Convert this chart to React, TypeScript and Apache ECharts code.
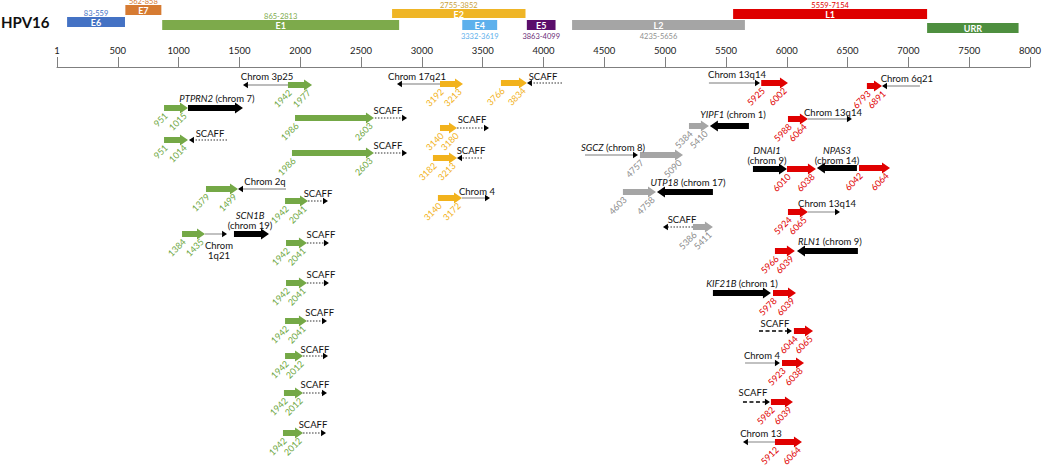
import React, { useEffect, useRef } from 'react';
import * as echarts from 'echarts';

const FONT = 'Lato';

// HPV16 genome axis
const AXIS_MIN = 0;
const AXIS_MAX = 8000;
const AXIS_STEP = 500;

// HPV16 genes (nt)
const geneNames = ['E6', 'E7', 'E1', 'E2', 'E4', 'E5', 'L2', 'L1', 'URR'];
const geneStart = [83, 562, 865, 2755, 3332, 3863, 4235, 5559, 7154];
const geneEnd = [559, 858, 2813, 3852, 3619, 4099, 5656, 7154, 7906];
const geneRange = ['83-559', '562-858', '865-2813', '2755-3852', '3332-3619', '3863-4099', '4235-5656', '5559-7154', ''];

// layout / style of gene map (kept apart from data)
const geneTop = [17, 5, 20, 9, 20, 20, 20, 9, 23];
const geneBottom = [27, 15, 30, 18, 30, 30, 30, 19, 33];
const geneLabelSide = ['above', 'above', 'above', 'above', 'below', 'below', 'below', 'above', ''];
const geneColor = ['#4472C4', '#D67B32', '#7DAA4B', '#EFB526', '#5DB0EC', '#5B0E6B', '#A5A5A5', '#DE0000', '#4E8F3F'];
const geneLabelColor = ['#4472C4', '#D67B32', '#7DAA4B', '#C9A23A', '#5DB0EC', '#6B2C78', '#8F8F8F', '#E00000', '#000'];

// Integration events: piece = [kind, from, to] drawn along the genome axis (arrow points toward "to")
type Piece = [string, number, number];
type Note = [string, number, number];
interface Ev { track: number; breaks: [number, number]; pieces: Piece[]; notes: Note[] }

const e1Events: Ev[] = [
  { track: 1.8, breaks: [1942, 1977], pieces: [['chrom', 1899, 1529], ['hpv', 1899, 2097]], notes: [['Chrom 3p25', 1727, -9]] },
  { track: 4.1, breaks: [951, 1015], pieces: [['hpv', 880, 1077], ['gene', 1077, 1529]], notes: [['{i|PTPRN2} (chrom 7)', 1315, -10]] },
  { track: 5.1, breaks: [1986, 2603], pieces: [['hpv', 1957, 2606], ['scaff', 2614, 2878]], notes: [['SCAFF', 2721, -8]] },
  { track: 7.3, breaks: [951, 1014], pieces: [['hpv', 880, 1077], ['scaff', 1398, 1085]], notes: [['SCAFF', 1258, -7]] },
  { track: 8.6, breaks: [1986, 2603], pieces: [['hpv', 1932, 2606], ['scaff', 2614, 2878]], notes: [['SCAFF', 2721, -8]] },
  { track: 12.2, breaks: [1379, 1499], pieces: [['hpv', 1225, 1488], ['chrom', 1883, 1488]], notes: [['Chrom 2q', 1710, -8]] },
  { track: 13.4, breaks: [1942, 2041], pieces: [['hpv', 1875, 2064], ['scaff', 2064, 2228]], notes: [['SCAFF', 2146, -8]] },
  { track: 16.7, breaks: [1384, 1435], pieces: [['hpv', 1028, 1217], ['chrom', 1217, 1398], ['gene', 1455, 1743]], notes: [['Chrom\n1q21', 1332, 16], ['{i|SCN1B}\n(chrom 19)', 1587, -14]] },
  { track: 17.6, breaks: [1942, 2041], pieces: [['hpv', 1883, 2055], ['scaff', 2055, 2236]], notes: [['SCAFF', 2170, -9]] },
  { track: 21.6, breaks: [1942, 2041], pieces: [['hpv', 1883, 2055], ['scaff', 2055, 2236]], notes: [['SCAFF', 2170, -9]] },
  { track: 25.4, breaks: [1942, 2041], pieces: [['hpv', 1875, 2055], ['scaff', 2055, 2220]], notes: [['SCAFF', 2160, -9]] },
  { track: 28.9, breaks: [1942, 2012], pieces: [['hpv', 1875, 2023], ['scaff', 2023, 2228]], notes: [['SCAFF', 2121, -7]] },
  { track: 32.6, breaks: [1942, 2012], pieces: [['hpv', 1866, 2023], ['scaff', 2023, 2220]], notes: [['SCAFF', 2121, -9]] },
  { track: 36.6, breaks: [1942, 2012], pieces: [['hpv', 1858, 2023], ['scaff', 2023, 2212]], notes: [['SCAFF', 2105, -9]] },
];

const e2Events: Ev[] = [
  { track: 1.7, breaks: [3192, 3213], pieces: [['chrom', 3149, 2795], ['hpv', 3149, 3338]], notes: [['Chrom 17q21', 2960, -8]] },
  { track: 1.6, breaks: [3766, 3834], pieces: [['hpv', 3650, 3864], ['scaff', 4152, 3864]], notes: [['SCAFF', 3996, -7]] },
  { track: 6.1, breaks: [3140, 3180], pieces: [['hpv', 3149, 3289], ['scaff', 3289, 3552]], notes: [['SCAFF', 3412, -9]] },
  { track: 9.1, breaks: [3182, 3213], pieces: [['hpv', 3091, 3289], ['scaff', 3494, 3289]], notes: [['SCAFF', 3404, -8]] },
  { track: 13.1, breaks: [3140, 3172], pieces: [['hpv', 3132, 3330], ['chrom', 3330, 3560]], notes: [['Chrom 4', 3453, -7]] },
];

const l2Events: Ev[] = [
  { track: 5.9, breaks: [5384, 5410], pieces: [['hpv', 5196, 5360], ['gene', 5689, 5368]], notes: [['{i|YIPF1} (chrom 1)', 5558, -12]] },
  { track: 8.8, breaks: [4757, 5090], pieces: [['chrom', 4341, 4777], ['hpv', 4793, 5147]], notes: [['{i|SGCZ} (chrom 8)', 4571, -8]] },
  { track: 12.5, breaks: [4603, 4758], pieces: [['hpv', 4653, 4925], ['gene', 5393, 4933]], notes: [['{i|UTP18} (chrom 17)', 5188, -10]] },
  { track: 16.0, breaks: [5386, 5411], pieces: [['scaff', 5229, 4982], ['hpv', 5229, 5393]], notes: [['SCAFF', 5139, -8]] },
];

const l1Events: Ev[] = [
  { track: 1.6, breaks: [5925, 6002], pieces: [['chrom', 5360, 5780], ['hpv', 5790, 6010]], notes: [['Chrom 13q14', 5591, -9]] },
  { track: 1.9, breaks: [6793, 6891], pieces: [['hpv', 6659, 6783], ['chrom', 7095, 6783]], notes: [['Chrom 6q21', 6988, -8]] },
  { track: 5.2, breaks: [5988, 6064], pieces: [['hpv', 6010, 6174], ['chrom', 6174, 6536]], notes: [['Chrom 13q14', 6380, -7]] },
  { track: 10.2, breaks: [6010, 6038], pieces: [['gene', 5722, 6002], ['hpv', 6002, 6240]], notes: [['{i|DNAI1}\n(chrom 9)', 5837, -14]] },
  { track: 10.1, breaks: [6042, 6064], pieces: [['gene', 6577, 6248], ['hpv', 6594, 6849]], notes: [['{i|NPAS3}\n(chrom 14)', 6413, -13]] },
  { track: 14.5, breaks: [5924, 6065], pieces: [['hpv', 6010, 6174], ['chrom', 6174, 6438]], notes: [['Chrom 13q14', 6331, -9]] },
  { track: 18.4, breaks: [5966, 6039], pieces: [['hpv', 5903, 6067], ['gene', 6585, 6084]], notes: [['{i|RLN1} (chrom 9)', 6355, -10]] },
  { track: 22.6, breaks: [5978, 6039], pieces: [['gene', 5393, 5870], ['hpv', 5887, 6076]], notes: [['{i|KIF21B} (chrom 1)', 5632, -10]] },
  { track: 26.4, breaks: [6044, 6065], pieces: [['dash', 5772, 6043], ['hpv', 6059, 6216]], notes: [['SCAFF', 5903, -8]] },
  { track: 29.6, breaks: [5923, 6038], pieces: [['chrom', 5657, 5944], ['hpv', 5961, 6142]], notes: [['Chrom 4', 5796, -8]] },
  { track: 33.5, breaks: [5982, 6039], pieces: [['dash', 5640, 5862], ['hpv', 5870, 6051]], notes: [['SCAFF', 5722, -10]] },
  { track: 37.5, breaks: [5912, 6064], pieces: [['chrom', 5903, 5640], ['hpv', 5903, 6125]], notes: [['Chrom 13', 5788, -9]] },
];

function blockArrow(xa: number, xb: number, y: number, fill: string) {
  const d = xb >= xa ? 1 : -1;
  const len = Math.abs(xb - xa);
  const hl = Math.min(8, len * 0.6);
  const hb = xb - d * hl;
  return {
    type: 'polygon',
    shape: { points: [[xa, y - 3], [hb, y - 3], [hb, y - 5.5], [xb, y], [hb, y + 5.5], [hb, y + 3], [xa, y + 3]] },
    style: { fill },
  };
}

function lineArrow(xa: number, xb: number, y: number, kind: string) {
  const d = xb >= xa ? 1 : -1;
  const hb = xb - d * 5;
  const stroke = kind === 'dash' ? '#000' : kind === 'scaff' ? '#777' : '#A6A6A6';
  const lineDash = kind === 'scaff' ? [1.5, 1.5] : kind === 'dash' ? [4, 2.5] : null;
  return [
    { type: 'line', shape: { x1: xa, y1: y, x2: hb, y2: y }, style: { stroke, lineWidth: kind === 'chrom' ? 1.4 : 1.3, lineDash } },
    { type: 'polygon', shape: { points: [[hb, y - 3.3], [xb, y], [hb, y + 3.3]] }, style: { fill: '#000' } },
  ];
}

function makeRender(events: Ev[], color: string, labelColor: string) {
  return (params: any, api: any) => {
    const ev = events[params.dataIndex];
    const y = api.coord([0, ev.track])[1];
    const px = (v: number) => api.coord([v, ev.track])[0];
    const children: any[] = [];
    let hx0 = 0, hx1 = 0;
    for (const [kind, a, b] of ev.pieces) {
      const xa = px(a), xb = px(b);
      if (kind === 'hpv') {
        children.push(blockArrow(xa, xb, y, color));
        hx0 = Math.min(xa, xb); hx1 = Math.max(xa, xb);
      } else if (kind === 'gene') {
        children.push(blockArrow(xa, xb, y, '#000'));
      } else {
        children.push(...lineArrow(xa, xb, y, kind));
      }
    }
    const lab = (t: string, x: number) => ({
      type: 'text', x, y: y + 6, rotation: Math.PI / 4,
      style: { text: t, fill: labelColor, font: `9px ${FONT}`, align: 'right', verticalAlign: 'middle', textAlign: 'right', textVerticalAlign: 'middle' },
    });
    children.push(lab(String(ev.breaks[0]), hx0 + 2));
    children.push(lab(String(ev.breaks[1]), Math.max(hx1 - 3, hx0 + 17)));
    for (const [t, xn, dy] of ev.notes) {
      children.push({
        type: 'text', x: px(xn), y: y + dy,
        style: {
          text: t, fill: '#111', font: `9.5px ${FONT}`, lineHeight: 10,
          align: 'center', verticalAlign: 'middle', textAlign: 'center', textVerticalAlign: 'middle',
          rich: { i: { font: `italic 9.5px ${FONT}`, fill: '#111', lineHeight: 10 } },
        },
      });
    }
    return { type: 'group', children };
  };
}

function eventSeries(events: Ev[], color: string, labelColor: string, name: string) {
  return {
    type: 'custom', name, xAxisIndex: 0, yAxisIndex: 0,
    data: events.map((e) => [e.pieces[0][1], e.track]),
    encode: { x: 0, y: 1 },
    renderItem: makeRender(events, color, labelColor),
    silent: true,
  };
}

function geneRender(params: any, api: any) {
  const i = params.dataIndex;
  const [x0, y0] = api.coord([geneStart[i], geneTop[i]]);
  const [x1, y1] = api.coord([geneEnd[i], geneBottom[i]]);
  const children: any[] = [
    { type: 'rect', shape: { x: x0, y: y0, width: x1 - x0, height: y1 - y0 }, style: { fill: geneColor[i] } },
    {
      type: 'text', x: (x0 + x1) / 2, y: (y0 + y1) / 2 + 0.5,
      style: { text: geneNames[i], fill: '#fff', font: `bold 9px ${FONT}`, align: 'center', verticalAlign: 'middle', textAlign: 'center', textVerticalAlign: 'middle' },
    },
  ];
  if (geneLabelSide[i]) {
    const above = geneLabelSide[i] === 'above';
    const ly = above ? y0 - 4 : y1 + 6.5;
    children.push({
      type: 'text', x: (x0 + x1) / 2, y: Math.max(ly, 1.5),
      style: { text: geneRange[i], fill: geneLabelColor[i], font: `7.5px ${FONT}`, align: 'center', verticalAlign: 'middle', textAlign: 'center', textVerticalAlign: 'middle' },
    });
  }
  return { type: 'group', children };
}

function buildOption() {
  return {
    animation: false,
    textStyle: { fontFamily: FONT },
    grid: [
      { left: 57, right: 20, top: 67, bottom: 0 },
      { left: 57, right: 20, top: 0, height: 45 },
    ],
    xAxis: [
      {
        gridIndex: 0, type: 'value', position: 'top', min: AXIS_MIN, max: AXIS_MAX, interval: AXIS_STEP,
        axisLine: { show: true, onZero: false, lineStyle: { color: '#7f7f7f', width: 1 } },
        axisTick: { show: true, length: 10, lineStyle: { color: '#7f7f7f' } },
        axisLabel: {
          margin: 12, fontSize: 9.5, color: '#222', fontFamily: FONT, showMinLabel: true, showMaxLabel: true,
          formatter: (v: number) => (v === 0 ? '1' : String(v)),
        },
        splitLine: { show: false },
      },
      { gridIndex: 1, type: 'value', min: AXIS_MIN, max: AXIS_MAX, show: false },
    ],
    yAxis: [
      { gridIndex: 0, type: 'value', min: 0, max: 40, inverse: true, show: false },
      { gridIndex: 1, type: 'value', min: 0, max: 45, inverse: true, show: false },
    ],
    graphic: [
      { type: 'text', left: 1, top: 14, style: { text: 'HPV16', font: `bold 15px ${FONT}`, fill: '#111' } },
    ],
    series: [
      {
        type: 'custom', name: 'genes', xAxisIndex: 1, yAxisIndex: 1,
        data: geneNames.map((_, i) => [geneStart[i], geneTop[i]]),
        encode: { x: 0, y: 1 },
        renderItem: geneRender,
        silent: true,
      },
      eventSeries(e1Events, '#74A846', '#6FA83F', 'E1'),
      eventSeries(e2Events, '#F2B21C', '#F2B21C', 'E2'),
      eventSeries(l2Events, '#A5A5A5', '#8C8C8C', 'L2'),
      eventSeries(l1Events, '#E00000', '#E00000', 'L1'),
    ],
  };
}

export default function App() {
  const ref = useRef<HTMLDivElement>(null);
  useEffect(() => {
    const chart = echarts.init(ref.current!, undefined, { renderer: 'svg' });
    chart.setOption(buildOption() as any);
    return () => chart.dispose();
  }, []);
  return <div ref={ref} style={{ position: 'absolute', left: 0, top: 0, width: 1050, height: 467, background: '#fff' }} />;
}
